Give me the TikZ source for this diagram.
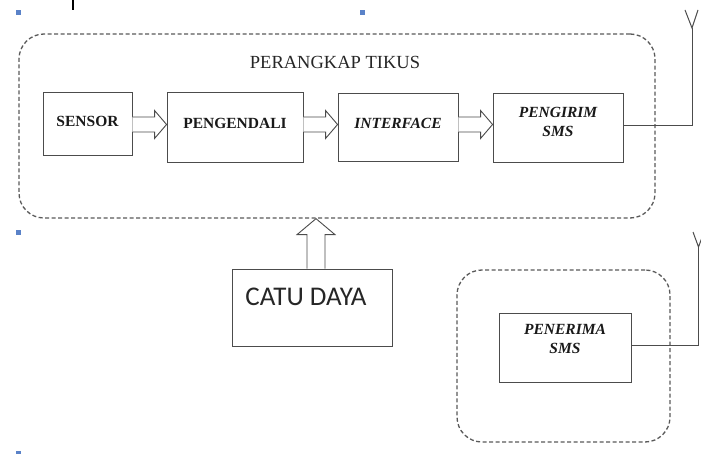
\documentclass[tikz,border=0pt]{standalone}
\usepackage{fontspec}
\setmainfont{Liberation Serif}
\newfontfamily\calfont{Carlito}
\usetikzlibrary{calc}
\definecolor{handleblue}{HTML}{5A82C8}
\begin{document}
\begin{tikzpicture}[x=1pt,y=1pt,
  blk/.style={draw=black!70, line width=0.9pt, inner sep=0pt},
  lbl/.style={font=\fontsize{15.5}{19}\selectfont\bfseries, align=center, inner sep=0pt, text=black!90},
  ilbl/.style={font=\fontsize{15.5}{19}\selectfont\bfseries\itshape, align=center, inner sep=0pt, text=black!90},
  grp/.style={draw=black!65, line width=1.3pt, dash pattern=on 4pt off 2.5pt, rounded corners=25pt, inner sep=0pt},
  harr/.style={draw=black!70, line width=0.9pt, fill=white},
  wire/.style={draw=black!70, line width=1pt},
  handle/.style={fill=handleblue, draw=none, minimum size=5pt, inner sep=0pt}
]
\useasboundingbox (0,0) rectangle (701,-454);

% group frames
\node[grp, minimum width=636, minimum height=184] (group1) at (337,-126) {};
\node[grp, minimum width=213, minimum height=172] (group2) at (563.5,-356) {};
\node[font=\fontsize{18.5}{20}\selectfont, inner sep=0pt, text=black!85] (title) at (335,-62) {PERANGKAP TIKUS};

% blocks
\node[blk, minimum width=89, minimum height=63,
  label={[lbl, name=sensortxt, yshift=2.5]center:SENSOR}] (sensor) at (87.5,-123.5) {};
\node[blk, minimum width=136, minimum height=70,
  label={[lbl, name=pengtxt, yshift=4]center:PENGENDALI}] (pengendali) at (235,-127) {};
\node[blk, minimum width=120, minimum height=68,
  label={[ilbl, name=intftxt, yshift=4]center:INTERFACE}] (interface) at (398,-127) {};
\node[blk, minimum width=130, minimum height=69,
  label={[ilbl, name=kirimtxt, yshift=6]center:PENGIRIM\\SMS}] (pengirim) at (558,-127.5) {};
\node[blk, minimum width=160, minimum height=77] (catu) at (312,-307.5) {};
\node[font=\calfont\fontsize{27}{29}\selectfont, inner sep=0pt, text=black!85] (catutxt) at (306,-297) {CATU DAYA};
\node[blk, minimum width=132, minimum height=69,
  label={[ilbl, name=terimatxt, yshift=9]center:PENERIMA\\SMS}] (penerima) at (565,-347.5) {};

% hollow arrows between blocks
\newcommand{\hollowarrow}[3]{%
  \draw[harr] let \p1=(#1.east), \p2=(#2.west) in
    (\x1,#3+7.5) -- (\x2-12,#3+7.5) -- (\x2-12,#3+14) -- (\x2,#3)
    -- (\x2-12,#3-14) -- (\x2-12,#3-7.5) -- (\x1,#3-7.5);}
\hollowarrow{sensor}{pengendali}{-124.5}
\hollowarrow{pengendali}{interface}{-124.5}
\hollowarrow{interface}{pengirim}{-124.5}

% power arrow up
\draw[harr] let \p1=(catu.north), \p2=(group1.south) in
  (307,\y1) -- (307,\y2-16) -- (297,\y2-16) -- (316,\y2)
  -- (335,\y2-16) -- (325,\y2-16) -- (325,\y1);

% antennas
\coordinate (ant1) at (692,-28);
\draw[wire] (pengirim.east |- 0,-126) -- (692,-126) -- (ant1);
\draw[wire] (685,-10) -- (ant1) -- (698,-10);
\coordinate (ant2) at (698.5,-247);
\draw[wire] (penerima.east |- 0,-345) -- (698.5,-345) -- (ant2);
\draw[wire] (693,-232) -- (ant2) -- (704,-232);

% screenshot handles
\node[handle] (h1) at (18,-13) {};
\node[handle] (h2) at (362,-13) {};
\node[handle] (h3) at (18,-233) {};
\node[handle] (h4) at (18,-453) {};
\draw[line width=2pt] (73,0) -- (73,-10);
\end{tikzpicture}
\end{document}
